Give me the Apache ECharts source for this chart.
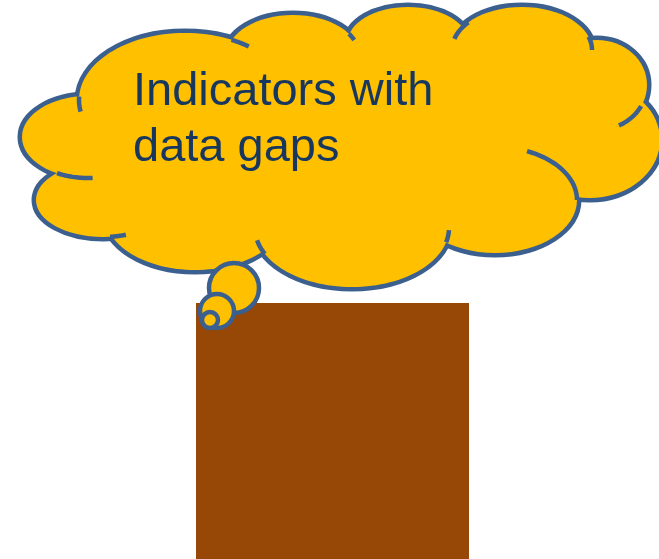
<!DOCTYPE html>
<html>
<head>
<meta charset="utf-8">
<script src="https://cdn.jsdelivr.net/npm/echarts@6/dist/echarts.min.js"></script>
<style>
  html, body { margin: 0; padding: 0; background: #fff; }
  #main { width: 659px; height: 559px; }
</style>
</head>
<body>
<div id="main"></div>
<script>
// 数据
const categories = ['Indicators'];
const values = [100];
const noteLines = ['Indicators with', 'data gaps'];

// 云朵的各个圆弧 [cx, cy, rx, ry]
const lobes = [
  [88, 137, 66, 41],   // 0 左
  [103, 200, 67, 37],  // 1 左下
  [185, 100, 106, 67], // 2 左上
  [293, 55, 66, 40],   // 3 上中
  [408, 42, 60, 35],   // 4 上
  [522, 50, 70, 43],   // 5 右上
  [597, 85, 50, 45],   // 6 右
  [590, 140, 70, 58],  // 7 右中
  [495, 200, 82, 53],  // 8 右下
  [352, 228, 97, 59],  // 9 下中
  [195, 215, 90, 55]   // 10 下左
];
// 填充中间的空隙
const fillers = [
  [350, 145, 200, 88],
  [480, 100, 100, 60],
  [160, 165, 70, 40]
];
// 内部的小弧线 [lobe, 起始角, 结束角]
const stubs = [
  [0, 118, 86],
  [1, 84, 70],
  [2, 183, 170],
  [2, -64, -53],
  [3, -32, -22],
  [5, -140, -165],
  [5, -18, 0],
  [6, 28, 64],
  [8, -67, 0],
  [9, 154, 168],
  [9, 14, 2]
];
const tail = [[234, 288, 25], [217, 311, 17], [210, 320, 8]];

const YELLOW = '#FFC000';
const BLUE = '#3B5F8E';

function arcPts(l, a0, a1) {
  let pts = [];
  for (let i = 0; i <= 20; i++) {
    let t = (a0 + (a1 - a0) * i / 20) * Math.PI / 180;
    pts.push([l[0] + l[2] * Math.cos(t), l[1] + l[3] * Math.sin(t)]);
  }
  return pts;
}

let graphics = [];
lobes.forEach(function (l) {
  graphics.push({
    type: 'ellipse', z: 100,
    shape: { cx: l[0], cy: l[1], rx: l[2], ry: l[3] },
    style: { fill: YELLOW, stroke: BLUE, lineWidth: 9 }
  });
});
lobes.concat(fillers).forEach(function (l) {
  graphics.push({
    type: 'ellipse', z: 101,
    shape: { cx: l[0], cy: l[1], rx: l[2], ry: l[3] },
    style: { fill: YELLOW }
  });
});
stubs.forEach(function (s) {
  graphics.push({
    type: 'polyline', z: 102,
    shape: { points: arcPts(lobes[s[0]], s[1], s[2]) },
    style: { stroke: BLUE, lineWidth: 4.5, fill: null }
  });
});
tail.forEach(function (c, i) {
  graphics.push({
    type: 'circle', z: 103 + i,
    shape: { cx: c[0], cy: c[1], r: c[2] },
    style: { fill: YELLOW, stroke: BLUE, lineWidth: 4.5 }
  });
});
noteLines.forEach(function (t, i) {
  graphics.push({
    type: 'text', z: 110,
    x: 133, y: 92 + i * 56,
    style: {
      text: t,
      font: '47px "Liberation Sans", Arial, sans-serif',
      fill: '#17375E',
      textVerticalAlign: 'middle'
    }
  });
});

let myChart = echarts.init(document.getElementById('main'));
myChart.setOption({
  animation: false,
  backgroundColor: '#fff',
  grid: { left: 196, top: 303, width: 273, bottom: 0 },
  xAxis: {
    type: 'category',
    data: categories,
    show: false
  },
  yAxis: {
    type: 'value',
    min: 0,
    max: 100,
    show: false
  },
  series: [{
    type: 'bar',
    data: values,
    barWidth: '100%',
    itemStyle: { color: '#974706' }
  }],
  graphic: graphics
});
</script>
</body>
</html>
